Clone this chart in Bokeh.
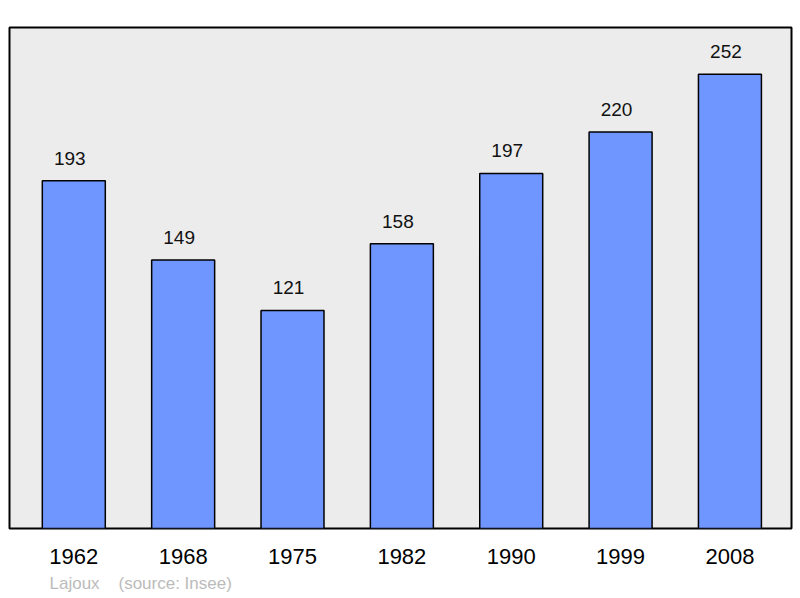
from bokeh.core.properties import value
from bokeh.embed import file_html
from bokeh.models import ColumnDataSource, Range1d, Title
from bokeh.plotting import figure
from bokeh.resources import INLINE

# Population de Lajoux
annees = ["1962", "1968", "1975", "1982", "1990", "1999", "2008"]
population = [193, 149, 121, 158, 197, 220, 252]

FONT = "Liberation Sans"

idx = list(range(len(annees)))
source = ColumnDataSource(dict(
    x=idx,
    pop=population,
    label=[str(v) for v in population],
))

p = figure(
    frame_width=782,
    frame_height=501,
    x_range=Range1d(-0.588, 6.563),
    y_range=Range1d(0, 278),
    toolbar_location=None,
    output_backend="svg",
    min_border_left=9,
    min_border_right=8,
    min_border_top=27,
    min_border_bottom=6,
)

p.background_fill_color = "#ececec"
p.border_fill_color = "white"
p.outline_line_color = "black"
p.outline_line_width = 2
p.grid.visible = False
p.yaxis.visible = False

p.vbar(x="x", top="pop", width=0.576, bottom=0, source=source,
       fill_color="#6f96ff", line_color="black", line_width=1.5)

p.text(x="x", y="pop", text="label", source=source,
       text_align="center", text_baseline="bottom", x_offset=-4, y_offset=-16,
       text_font=value(FONT), text_font_size="19px", text_color="#111111")

ax = p.xaxis[0]
ax.ticker = idx
ax.major_label_overrides = {i: a for i, a in enumerate(annees)}
ax.axis_line_color = None
ax.major_tick_line_color = None
ax.minor_tick_line_color = None
ax.major_label_standoff = 14
ax.major_label_text_font = FONT
ax.major_label_text_font_size = "22px"
ax.major_label_text_color = "black"

# source line under the chart
src = Title(text="Lajoux" + "\u00a0" * 4 + "(source: Insee)",
            align="left", offset=40, standoff=10,
            text_font=FONT, text_font_size="17px", text_font_style="normal",
            text_color="#bbbbbb")
p.add_layout(src, "below")

open("out.html", "w").write(file_html(p, INLINE))
